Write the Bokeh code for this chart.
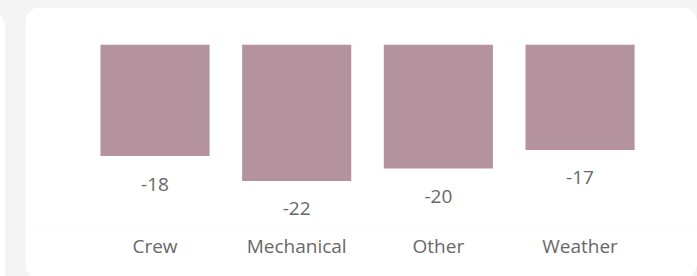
from bokeh.plotting import figure
from bokeh.models import Range1d, FixedTicker, ColumnDataSource
from bokeh.core.properties import value
from bokeh.embed import file_html
from bokeh.resources import INLINE

categories = ["Crew", "Mechanical", "Other", "Weather"]
delays = [-18, -22, -20, -17]
value_labels = ["-18", "-22", "-20", "-17"]

xs = list(range(len(categories)))
src = ColumnDataSource(dict(x=xs, top=[0] * len(xs), bottom=delays, lab=value_labels))

FONT = "Open Sans"
TXT = "#686868"
FS = "19px"

p = figure(width=672, height=272, output_backend="svg", toolbar_location=None,
           x_range=Range1d(-0.914, 3.829), y_range=Range1d(-29.35, 0),
           min_border_left=0, min_border_right=0, min_border_top=37, min_border_bottom=53)
p.margin = (7, 0, 0, 25)
p.styles = {"border-radius": "16px", "overflow": "hidden"}
p.background_fill_color = "white"
p.border_fill_color = "white"
p.outline_line_color = None
p.grid.visible = False
p.yaxis.visible = False

p.vbar(x="x", top="top", bottom="bottom", width=0.77, source=src,
       fill_color="#b5939e", line_color=None)
p.text(x="x", y="bottom", text="lab", source=src, y_offset=28,
       text_align="center", text_baseline="middle",
       text_font=value(FONT), text_font_size=FS, text_color=TXT)

ax = p.xaxis[0]
ax.ticker = FixedTicker(ticks=xs)
ax.major_label_overrides = {i: c for i, c in zip(xs, categories)}
ax.axis_line_color = None
ax.major_tick_line_color = None
ax.minor_tick_line_color = None
ax.major_tick_out = 0
ax.major_tick_in = 0
ax.major_label_standoff = 6
ax.major_label_text_font = FONT
ax.major_label_text_font_size = FS
ax.major_label_text_color = TXT

css = ("<style>html,body{margin:0 !important;padding:0;background:#f4f4f4;overflow:hidden;}"
       "body::before{content:'';position:fixed;left:-20px;top:13px;width:25px;height:280px;"
       "background:#fff;border-radius:16px;}</style>")
html = file_html(p, INLINE)
html = html.replace("<head>", "<head>" + css, 1)
open("out.html", "w").write(html)
